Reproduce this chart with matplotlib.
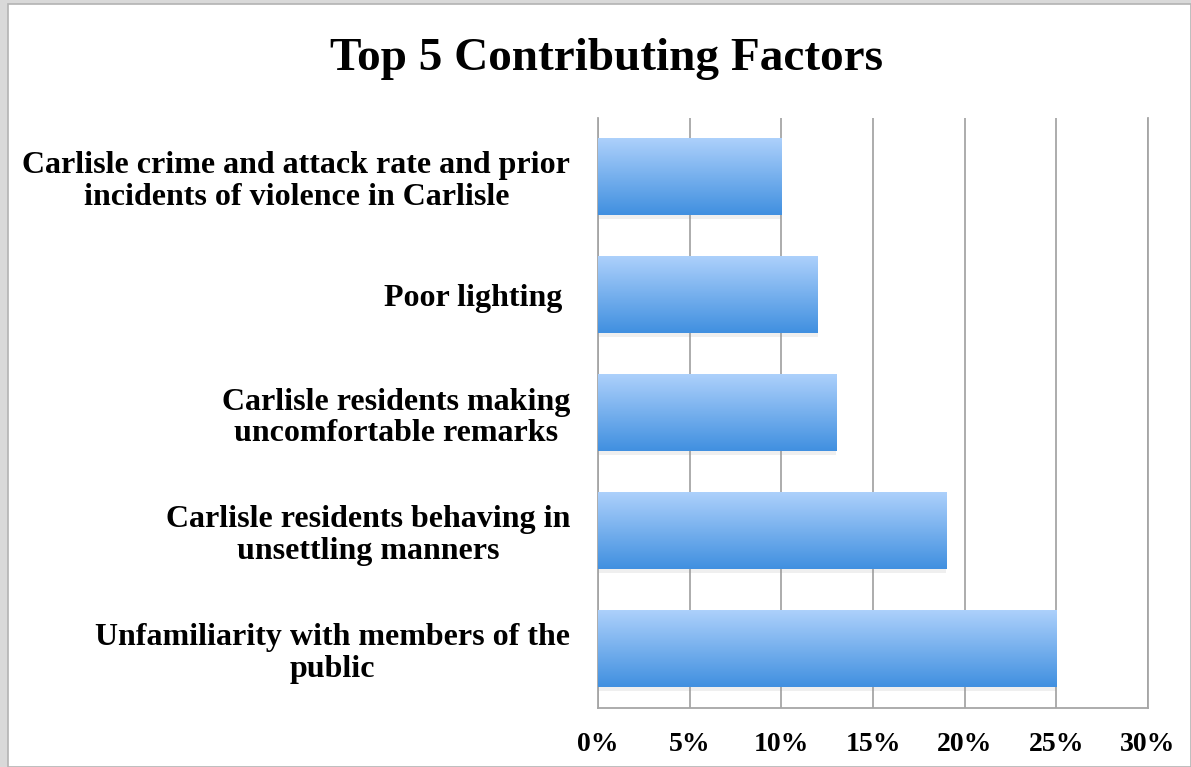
import numpy as np
import matplotlib.pyplot as plt
from matplotlib.colors import LinearSegmentedColormap
from matplotlib.patches import Rectangle

# Top 5 contributing factors (percent of responses)
factors = [
    "Carlisle crime and attack rate and prior\nincidents of violence in Carlisle",
    "Poor lighting ",
    "Carlisle residents making\nuncomfortable remarks",
    "Carlisle residents behaving in\nunsettling manners",
    "Unfamiliarity with members of the\npublic",
]
percent = [10, 12, 13, 19, 25]
ticks = [0, 5, 10, 15, 20, 25, 30]

plt.rcParams['font.family'] = ['Liberation Serif', 'DejaVu Serif']

fig = plt.figure(figsize=(11.91, 7.67), dpi=100)
fig.patch.set_facecolor('#d9d9d9')
fig.patches.append(Rectangle((8 / 1191, 0), 1 - 8 / 1191, 1 - 4 / 767,
                             transform=fig.transFigure, facecolor='white',
                             edgecolor='#b3b3b3', linewidth=1.2, zorder=-5))

ax = fig.add_axes([598 / 1191, 1 - 708 / 767, 550 / 1191, 590 / 767])
ax.set_facecolor('none')
ax.set_zorder(2)

n = len(factors)
ypos = np.arange(n)[::-1]
h = 0.645
cmap = LinearSegmentedColormap.from_list('bar', ['#4190e0', '#acd0fb'])
grad = np.linspace(0, 1, 64).reshape(-1, 1)

for y, v in zip(ypos, percent):
    # faint shadow under the bar
    ax.add_patch(Rectangle((0, y - h / 2 - 0.03), v, 0.03, facecolor='#999999',
                           alpha=0.15, linewidth=0, zorder=2))
    ax.imshow(grad, cmap=cmap, origin='lower', aspect='auto', zorder=3,
              extent=(0, v, y - h / 2, y + h / 2))

ax.set_xlim(0, 30)
ax.set_ylim(-0.5, n - 0.5)
ax.set_xticks(ticks)
ax.set_xticklabels([f"{t}%" for t in ticks], fontsize=20, fontweight='bold')
ax.set_yticks(ypos)
ax.set_yticklabels(factors, fontsize=23, fontweight='bold', ha='right',
                   multialignment='center', linespacing=1.12)
ax.tick_params(axis='both', length=0)
ax.tick_params(axis='y', pad=20)
ax.tick_params(axis='x', pad=17)
ax.grid(axis='x', color='#a6a6a6', linewidth=1.3, zorder=1)
ax.set_axisbelow(True)
ax.spines['top'].set_visible(False)
for s in ['left', 'bottom', 'right']:
    ax.spines[s].set_color('#a6a6a6')
    ax.spines[s].set_linewidth(1.3)

fig.text(607 / 1191, 1 - 59 / 767, "Top 5 Contributing Factors", ha='center',
         va='center', fontsize=34, fontweight='bold')

fig.savefig('out.png', dpi=100, facecolor=fig.get_facecolor())
